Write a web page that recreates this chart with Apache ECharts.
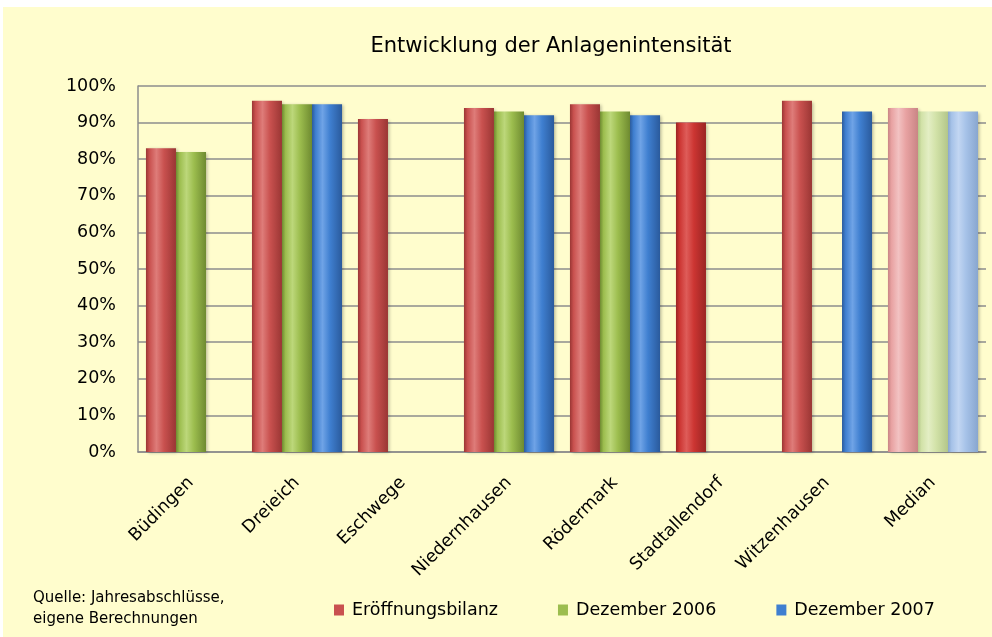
<!DOCTYPE html>
<html>
<head>
<meta charset="utf-8">
<script src="https://cdn.jsdelivr.net/npm/echarts@6/dist/echarts.min.js"></script>
<style>
  html, body { margin: 0; padding: 0; background: #fff; }
  #chart { width: 992px; height: 637px; }
</style>
</head>
<body>
<div id="chart"></div>
<script>
const categories = ['Büdingen', 'Dreieich', 'Eschwege', 'Niedernhausen', 'Rödermark', 'Stadtallendorf', 'Witzenhausen', 'Median'];
const seriesNames = ['Eröffnungsbilanz', 'Dezember 2006', 'Dezember 2007'];
const eroeffnung = [83, 96, 91, 94, 95, 90, 96, 94];
const dez2006 = [82, 95, null, 93, 93, null, null, 93];
const dez2007 = [null, 95, null, 92, 92, null, 93, 93];
const yTicks = [0, 10, 20, 30, 40, 50, 60, 70, 80, 90, 100];

(() => {
  const chart = echarts.init(document.getElementById('chart'), null, { renderer: 'canvas' });
  const font = '"DejaVu Sans", Verdana, sans-serif';

  // base, highlight, shade for each series; pale variants for the median
  const palette = [
    { base: '#C9514F', light: '#DE7C79', dark: '#9A3634' },
    { base: '#9CBD4E', light: '#BCD77A', dark: '#6E8A30' },
    { base: '#3F7FD0', light: '#6FA3E6', dark: '#2A5A9C' },
  ];
  const pale = [
    { base: '#E8A2A2', light: '#F2C2C2', dark: '#C98585' },
    { base: '#D2E2A8', light: '#E3EEC4', dark: '#B3C68A' },
    { base: '#A6C2E8', light: '#C2D6F2', dark: '#88A6CF' },
  ];
  const special = { base: '#CC3532', light: '#DE5C59', dark: '#9A2423' };

  const grad = (c) => new echarts.graphic.LinearGradient(0, 0, 1, 0, [
    { offset: 0, color: c.dark },
    { offset: 0.12, color: c.base },
    { offset: 0.35, color: c.light },
    { offset: 0.6, color: c.base },
    { offset: 1, color: c.dark },
  ]);

  const makeData = (values, s) => values.map((v, i) => {
    if (v == null) return null;
    let c = palette[s];
    if (categories[i] === 'Median') c = pale[s];
    else if (s === 0 && categories[i] === 'Stadtallendorf') c = special;
    return { value: v, itemStyle: { color: grad(c) } };
  });

  const all = [eroeffnung, dez2006, dez2007];
  const series = all.map((values, s) => ({
    name: seriesNames[s],
    type: 'bar',
    barGap: 0,
    barCategoryGap: '15%',
    itemStyle: { color: palette[s].base, shadowColor: 'rgba(0,0,0,0.25)', shadowBlur: 3, shadowOffsetX: 2, shadowOffsetY: 1 },
    data: makeData(values, s),
  }));

  chart.setOption({
    animation: false,
    backgroundColor: '#ffffff',
    title: {
      text: 'Entwicklung der Anlagenintensität',
      left: 546,
      textAlign: 'center',
      top: 31,
      textStyle: { fontFamily: font, fontSize: 21, fontWeight: 'normal', color: '#000' },
    },
    graphic: [
      { type: 'rect', z: -10, shape: { x: 3, y: 7, width: 989, height: 630 }, style: { fill: '#FFFDCD' } },
      {
        type: 'text', left: 33, top: 588,
        style: { text: 'Quelle: Jahresabschlüsse,\neigene Berechnungen', font: '15px ' + font, fill: '#000', lineHeight: 21 },
      },
    ],
    legend: {
      data: seriesNames.map((name, i) => ({ name, itemStyle: { color: palette[i].base } })),
      left: 329,
      top: 596,
      icon: 'rect',
      itemWidth: 10,
      itemHeight: 11,
      itemGap: 60,
      textStyle: { fontFamily: font, fontSize: 17.5, color: '#000', padding: [0, 0, 0, 3] },
    },
    grid: { left: 138, right: 6, top: 86, bottom: 185 },
    xAxis: {
      type: 'category',
      data: categories,
      axisLine: { lineStyle: { color: '#8c8c8c', width: 1.5 } },
      axisTick: { show: false },
      axisLabel: { rotate: 45, margin: 28, fontFamily: font, fontSize: 17.5, color: '#000', interval: 0 },
    },
    yAxis: {
      type: 'value',
      min: yTicks[0],
      max: yTicks[yTicks.length - 1],
      interval: 10,
      axisLine: { show: true, lineStyle: { color: '#8c8c8c', width: 1.5 } },
      axisTick: { show: false },
      axisLabel: { formatter: '{value}%', margin: 22, fontFamily: font, fontSize: 17.5, color: '#000' },
      splitLine: { lineStyle: { color: '#8c8c8c', width: 1.5 } },
    },
    series,
  });
})();
</script>
</body>
</html>
